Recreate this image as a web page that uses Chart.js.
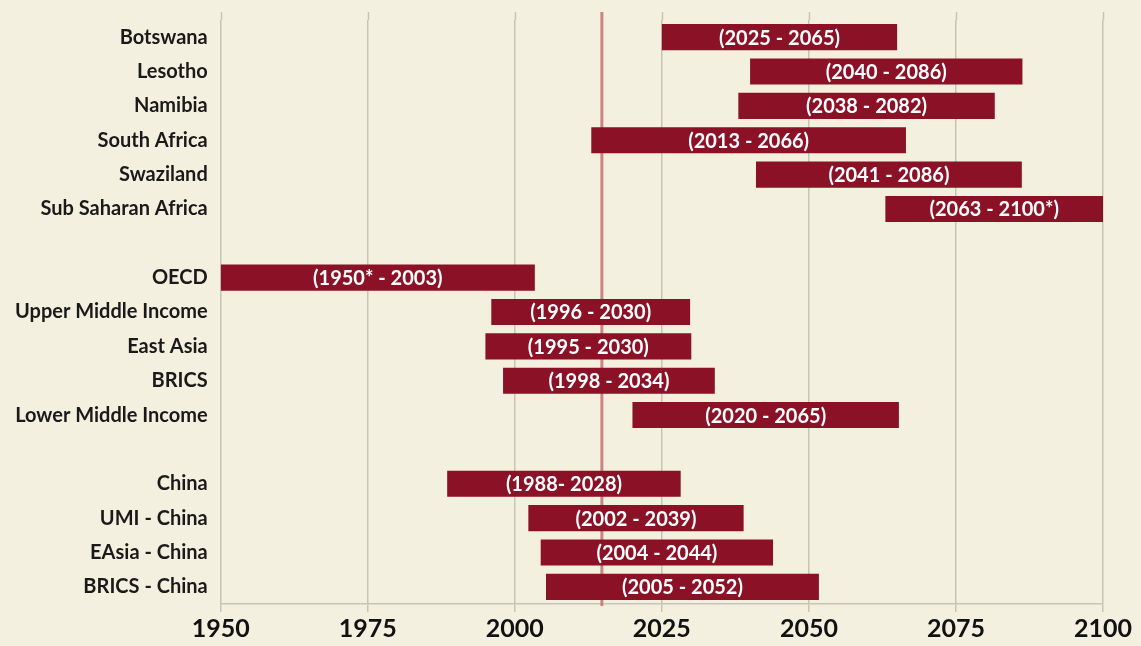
<!DOCTYPE html>
<html>
<head>
<meta charset="utf-8">
<script src="https://cdn.jsdelivr.net/npm/chart.js@4.4.1/dist/chart.umd.min.js"></script>
<style>
  html, body { margin: 0; padding: 0; background: #f4f0df; }
  #wrap { width: 1141px; height: 646px; position: relative; }
</style>
</head>
<body>
<div id="wrap"><canvas id="c" width="1141" height="646"></canvas></div>
<script>
const categories = ["Botswana", "Lesotho", "Namibia", "South Africa", "Swaziland", "Sub Saharan Africa", "",
  "OECD", "Upper Middle Income", "East Asia", "BRICS", "Lower Middle Income", " ",
  "China", "UMI - China", "EAsia - China", "BRICS - China"];
const startYears = [2025, 2040, 2038, 2013, 2041, 2063, null, 1950, 1996, 1995, 1998, 2020, null, 1988.5, 2002.3, 2004.4, 2005.3];
const endYears   = [2065, 2086.3, 2081.6, 2066.5, 2086.2, 2100, null, 2003.4, 2029.8, 2030, 2034, 2065.3, null, 2028.2, 2038.9, 2043.9, 2051.7];
const barLabels = ["(2025 - 2065)", "(2040 - 2086)", "(2038 - 2082)", "(2013 - 2066)", "(2041 - 2086)", "(2063 - 2100*)", "",
  "(1950* - 2003)", "(1996 - 2030)", "(1995 - 2030)", "(1998 - 2034)", "(2020 - 2065)", "",
  "(1988- 2028)", "(2002 - 2039)", "(2004 - 2044)", "(2005 - 2052)"];
const xTicks = [1950, 1975, 2000, 2025, 2050, 2075, 2100];
const REF_YEAR = 2014.8;

const ranges = startYears.map((s, i) => (s === null ? null : [s, endYears[i]]));

const BAR = '#8b1126';
const GRID = '#c6c3b8';

const bg = {
  id: 'bg',
  beforeDraw(chart) {
    const c = chart.ctx;
    c.save();
    c.fillStyle = '#f4f0df';
    c.fillRect(0, 0, chart.width, chart.height);
    c.restore();
  }
};

const extras = {
  id: 'extras',
  beforeDatasetsDraw(chart) {
    const c = chart.ctx, xs = chart.scales.x, a = chart.chartArea;
    c.save();
    c.strokeStyle = GRID;
    c.lineWidth = 1.5;
    xTicks.forEach(t => {
      const px = Math.round(xs.getPixelForValue(t)) + 0.5;
      c.beginPath();
      c.moveTo(px, 12);
      c.lineTo(px, a.top);
      c.stroke();
    });
    const rx = xs.getPixelForValue(REF_YEAR);
    c.strokeStyle = 'rgba(200,120,120,0.9)';
    c.lineWidth = 3;
    c.beginPath();
    c.moveTo(rx, 12);
    c.lineTo(rx, a.bottom + 2);
    c.stroke();
    c.restore();
  },
  afterDatasetsDraw(chart) {
    const c = chart.ctx;
    const meta = chart.getDatasetMeta(0);
    c.save();
    c.fillStyle = '#ffffff';
    c.font = 'bold 20px Lato';
    c.textAlign = 'center';
    c.textBaseline = 'middle';
    meta.data.forEach((el, i) => {
      if (!ranges[i]) return;
      const p = el.getProps(['x', 'y', 'base'], true);
      c.fillText(barLabels[i], (p.x + p.base) / 2, p.y + 1);
    });
    c.restore();
  }
};

new Chart(document.getElementById('c'), {
  type: 'bar',
  data: {
    labels: categories,
    datasets: [{
      data: ranges,
      backgroundColor: BAR,
      borderWidth: 0,
      borderSkipped: false,
      categoryPercentage: 1,
      barPercentage: 0.76
    }]
  },
  options: {
    indexAxis: 'y',
    responsive: false,
    animation: false,
    devicePixelRatio: 1,
    layout: { padding: { top: 20, right: 38, left: 2, bottom: 0 } },
    plugins: { legend: { display: false }, tooltip: { enabled: false } },
    scales: {
      x: {
        type: 'linear',
        min: 1950,
        max: 2100,
        afterBuildTicks(scale) { scale.ticks = xTicks.map(v => ({ value: v })); },
        grid: { color: GRID, lineWidth: 1.5, tickLength: 8, drawTicks: true },
        border: { color: GRID, width: 1.5 },
        ticks: {
          color: '#111',
          font: { family: 'Lato', weight: 'bold', size: 25 },
          padding: 2,
          maxRotation: 0,
          callback: v => String(v)
        }
      },
      y: {
        afterFit(scale) { scale.paddingTop = 0; scale.paddingBottom = 0; },
        grid: { display: false, drawTicks: false },
        border: { display: false },
        ticks: {
          color: '#1a1a1a',
          font: { family: 'Lato', weight: 'bold', size: 20 },
          padding: 13,
          autoSkip: false
        }
      }
    }
  },
  plugins: [bg, extras]
});
</script>
</body>
</html>
